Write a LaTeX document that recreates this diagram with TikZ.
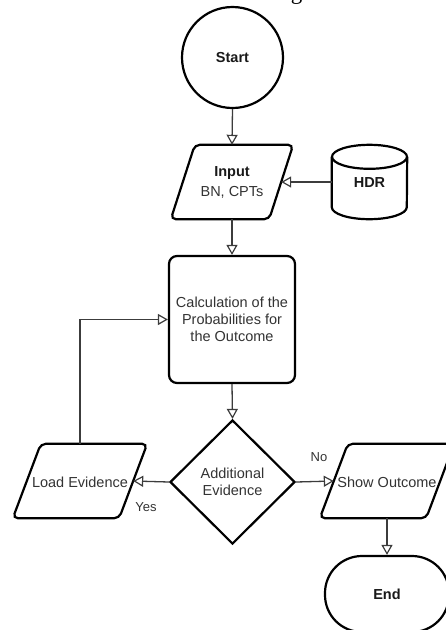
\documentclass[tikz,border=0pt]{standalone}
\usepackage{fontspec}
\setmainfont{Liberation Sans}
\newfontfamily\bodyserif{Liberation Serif}
\usetikzlibrary{arrows.meta,shapes.geometric}

\definecolor{linegrey}{HTML}{3C3C3C}
\definecolor{textgrey}{HTML}{333333}

\tikzset{
  shapeline/.style={draw=black, line width=2.2pt, fill=white},
  flowtext/.style={font=\fontsize{14.5}{17}\selectfont, text=textgrey, align=center, inner sep=0pt},
  boldtext/.style={font=\fontsize{14.5}{17}\selectfont\bfseries, text=black!90, align=center, inner sep=0pt},
  terminal/.style={shapeline, circle, minimum size=101pt, inner sep=0pt},
  holder/.style={rectangle, inner sep=0pt, minimum height=74pt},
  process/.style={shapeline, rectangle, rounded corners=8pt, minimum width=126pt, minimum height=127pt, inner sep=0pt},
  decision/.style={shapeline, diamond, minimum width=125pt, minimum height=124pt, inner sep=0pt, aspect=1},
  stopshape/.style={shapeline, rectangle, rounded corners=37pt, minimum width=124pt, minimum height=76pt, inner sep=0pt},
  flow/.style={draw=linegrey, line width=1.3pt, -{Triangle[open, length=10pt, width=11pt, line width=1.2pt]}},
  edgelabel/.style={font=\fontsize{13}{15}\selectfont, text=textgrey, inner sep=0pt},
}

% parallelogram leaning right, drawn inside the box of node #1, slant #2
\newcommand{\slantshape}[2]{%
  \draw[shapeline, rounded corners=5pt] ([xshift=#2]#1.north west) -- (#1.north east)
    -- ([xshift=-#2]#1.south east) -- (#1.south west) -- cycle;}

\begin{document}
\begin{tikzpicture}[x=1pt, y=-1pt]
  \useasboundingbox (0,0) rectangle (446,630);
  \clip (0,0) rectangle (446,630);

  % running text of the page above the figure
  \node[anchor=base east, inner sep=0pt, font=\bodyserif\fontsize{23}{27}\selectfont] (caption) at (355,-1)
    {attitudes as illustrated in Figure 3.};

  % start
  \node[terminal] (start) at (232.5,57.5) {};
  \node[boldtext] (startlbl) at (start.center) {Start};

  % input data
  \node[holder, minimum width=122pt] (input) at (232,182) {};
  \slantshape{input}{24pt}
  \coordinate (input-r) at ([xshift=-12pt]input.east);
  \node[boldtext] (inputhead) at (232,173) {Input};
  \node[flowtext] (inputbody) at (232,192) {BN, CPTs};

  % database drum
  \node[minimum width=75pt, minimum height=74pt, inner sep=0pt] (hdr) at (369.5,182) {};
  \draw[shapeline] ([yshift=-12pt]hdr.north west) -- ([yshift=12pt]hdr.south west)
    arc[start angle=180, end angle=360, x radius=37.5pt, y radius=12pt]
    -- ([yshift=-12pt]hdr.north east);
  \draw[shapeline] ([yshift=-12pt]hdr.north) ellipse[x radius=37.5pt, y radius=12pt];
  \node[boldtext] (hdrlbl) at ([yshift=-1pt]hdr.center) {HDR};

  % processing step
  \node[process] (calc) at (232,319.5) {};
  \node[flowtext] (calclbl) at (calc.center)
    {Calculation of the\\Probabilities for\\the Outcome};

  % decision
  \node[decision] (dec) at (232.5,482) {};
  \node[flowtext] (declbl) at (232.5,482) {Additional\\Evidence};

  % evidence input
  \node[holder, minimum width=134pt] (load) at (80,481) {};
  \slantshape{load}{28pt}
  \coordinate (load-r) at ([xshift=-14pt]load.east);
  \node[flowtext] (loadlbl) at (80,482) {Load Evidence};

  % output
  \node[holder, minimum width=134pt] (show) at (387,481) {};
  \slantshape{show}{28pt}
  \coordinate (show-l) at ([xshift=14pt]show.west);
  \node[flowtext] (showlbl) at (387,482) {Show Outcome};

  % end
  \node[stopshape] (stop) at (387,594) {};
  \node[boldtext] (stoplbl) at (stop.center) {End};

  % connectors
  \draw[flow] (start.south) -- (input.north);
  \draw[flow] (hdr.west) -- (input-r);
  \draw[flow] (input.south) -- (calc.north);
  \draw[flow] (calc.south) -- (dec.north);
  \draw[flow] (dec.west) -- (load-r);
  \draw[flow] (dec.east) -- (show-l);
  \draw[flow] (load.north) |- (calc.west);
  \draw[flow] (show.south) -- (stop.north);

  % branch labels
  \node[edgelabel] (yes) at (146,507) {Yes};
  \node[edgelabel] (no) at (319,457) {No};
\end{tikzpicture}
\end{document}
